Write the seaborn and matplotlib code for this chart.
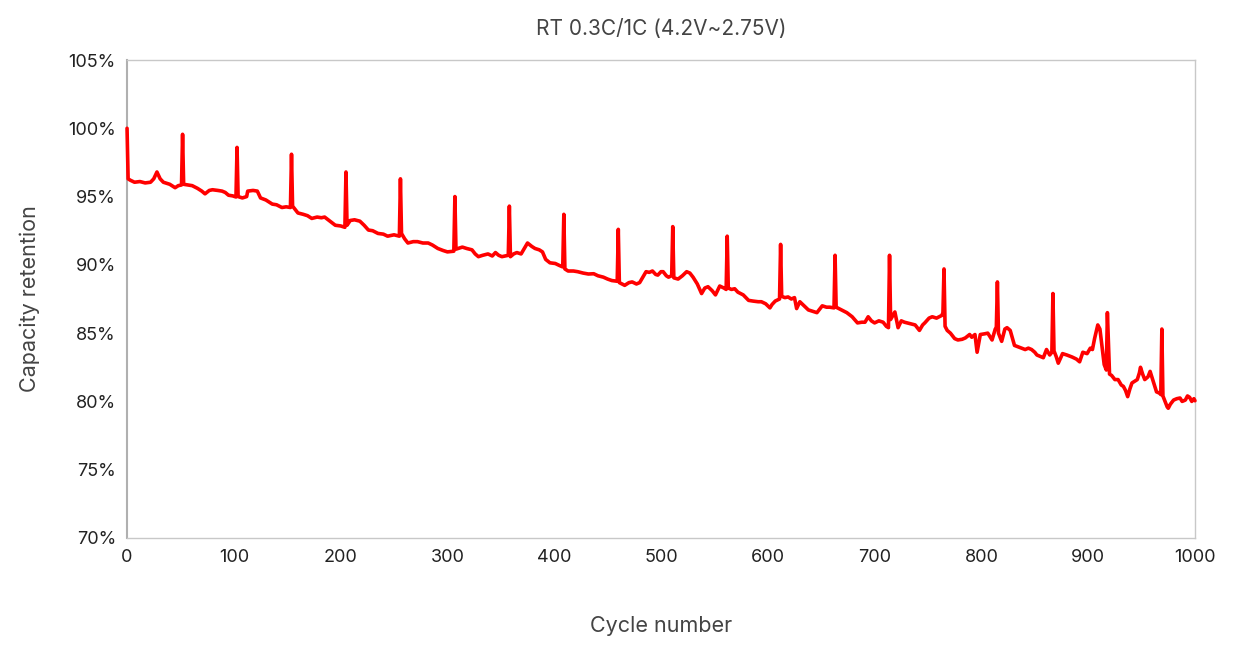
import pandas as pd
import numpy as np
import seaborn as sns
import matplotlib.pyplot as plt
from matplotlib.ticker import PercentFormatter

# baseline readings (cycle, retention %)
base_cycles = [1, 3, 7, 12, 17, 22, 25, 28, 31, 34, 40, 45, 48, 51, 53, 57, 61, 66, 70, 73,
               77, 80, 85, 89, 92, 95, 99, 102, 104, 108, 112, 113, 118, 122, 125, 130, 136, 140, 145, 149,
               153, 155, 160, 165, 169, 173, 178, 182, 185, 190, 195, 200, 204, 206, 209, 213, 218, 222, 226, 230,
               235, 240, 244, 250, 255, 257, 260, 263, 268, 272, 277, 282, 286, 291, 296, 300, 306, 308, 314, 318,
               323, 326, 329, 333, 338, 342, 345, 348, 351, 357, 359, 362, 365, 369, 372, 375, 379, 382, 386, 389,
               392, 396, 401, 405, 408, 410, 413, 418, 422, 427, 432, 437, 441, 446, 450, 454, 459, 461, 466, 470,
               473, 477, 480, 483, 486, 489, 492, 495, 497, 500, 502, 505, 507, 510, 512, 516, 520, 524, 527, 530,
               534, 538, 541, 544, 548, 551, 555, 559, 561, 563, 566, 569, 572, 577, 582, 586, 591, 594, 598, 602,
               604, 607, 611, 613, 616, 619, 622, 625, 627, 630, 634, 638, 642, 646, 649, 651, 655, 658, 662, 664,
               669, 674, 679, 684, 688, 691, 694, 697, 700, 704, 708, 711, 713, 715, 719, 722, 725, 728, 733, 738,
               742, 745, 747, 751, 754, 758, 763, 764, 766, 768, 771, 775, 778, 782, 785, 789, 791, 794, 796, 799,
               803, 806, 810, 813, 814, 816, 819, 822, 824, 827, 831, 836, 841, 844, 847, 850, 852, 855, 858, 861,
               864, 866, 868, 870, 872, 876, 880, 885, 889, 892, 895, 899, 902, 904, 906, 909, 911, 913, 915, 917,
               920, 922, 925, 928, 931, 933, 935, 937, 939, 941, 944, 946, 948, 949, 951, 953, 956, 958, 960, 962,
               964, 967, 968, 970, 972, 974, 975, 977, 980, 983, 986, 988, 991, 993, 995, 997, 999, 1000]
base_values = [96.3, 96.2, 96.05, 96.1, 96.0, 96.05, 96.3, 96.8, 96.3, 96.05, 95.9, 95.65, 95.8, 95.85, 95.9, 95.85, 95.8, 95.6, 95.4, 95.2,
               95.45, 95.5, 95.45, 95.4, 95.3, 95.1, 95.05, 94.97, 95.0, 94.9, 95.0, 95.4, 95.45, 95.4, 94.9, 94.75, 94.45, 94.4, 94.2, 94.25,
               94.2, 94.3, 93.8, 93.7, 93.6, 93.4, 93.5, 93.45, 93.5, 93.2, 92.9, 92.85, 92.75, 92.9, 93.25, 93.3, 93.2, 92.9, 92.55, 92.5,
               92.3, 92.25, 92.1, 92.2, 92.1, 92.3, 91.9, 91.6, 91.7, 91.7, 91.6, 91.6, 91.45, 91.2, 91.05, 90.95, 91.0, 91.15, 91.3, 91.2,
               91.1, 90.8, 90.6, 90.7, 90.8, 90.65, 90.9, 90.7, 90.6, 90.7, 90.6, 90.8, 90.9, 90.8, 91.2, 91.6, 91.35, 91.2, 91.1, 90.95,
               90.4, 90.15, 90.1, 89.95, 89.85, 89.7, 89.55, 89.55, 89.5, 89.4, 89.33, 89.35, 89.2, 89.1, 88.96, 88.85, 88.8, 88.7, 88.5, 88.7,
               88.75, 88.6, 88.7, 89.1, 89.5, 89.45, 89.55, 89.3, 89.25, 89.5, 89.5, 89.2, 89.1, 89.2, 89.05, 88.96, 89.2, 89.5, 89.4, 89.1,
               88.6, 87.9, 88.3, 88.4, 88.1, 87.8, 88.45, 88.3, 88.2, 88.3, 88.2, 88.25, 88.0, 87.8, 87.4, 87.35, 87.3, 87.3, 87.15, 86.85,
               87.1, 87.35, 87.5, 87.7, 87.6, 87.65, 87.5, 87.6, 86.8, 87.3, 87.0, 86.7, 86.6, 86.5, 86.8, 87.0, 86.9, 86.9, 86.85, 86.9,
               86.7, 86.5, 86.2, 85.75, 85.8, 85.8, 86.2, 85.9, 85.75, 85.9, 85.8, 85.5, 85.4, 86.0, 86.55, 85.4, 85.9, 85.8, 85.7, 85.6,
               85.2, 85.6, 85.75, 86.1, 86.2, 86.1, 86.3, 86.5, 85.5, 85.2, 85.0, 84.6, 84.5, 84.55, 84.65, 84.9, 84.7, 84.9, 83.6, 84.9,
               84.95, 85.0, 84.5, 85.3, 85.4, 85.0, 84.4, 85.3, 85.4, 85.2, 84.1, 83.95, 83.8, 83.9, 83.8, 83.6, 83.4, 83.3, 83.2, 83.8,
               83.4, 83.6, 83.7, 83.3, 82.8, 83.5, 83.4, 83.25, 83.1, 82.9, 83.6, 83.5, 83.9, 83.8, 84.6, 85.6, 85.3, 84.0, 82.7, 82.3,
               82.0, 81.9, 81.6, 81.6, 81.2, 81.1, 80.8, 80.35, 80.9, 81.35, 81.5, 81.6, 82.1, 82.5, 82.0, 81.6, 81.8, 82.2, 81.7, 81.2,
               80.7, 80.6, 80.5, 80.4, 80.0, 79.6, 79.5, 79.8, 80.1, 80.2, 80.25, 80.0, 80.1, 80.4, 80.3, 80.0, 80.2, 80.05]

# spikes every ~51 cycles (check-up cycles)
spike_cycles = [0, 52, 103, 154, 205, 256, 307, 358, 409, 460, 511, 562, 612, 663, 714, 765, 815, 867, 918, 969]
spike_values = [100.0, 99.56, 98.6, 98.1, 96.8, 96.3, 95.0, 94.3, 93.7, 92.6, 92.8, 92.1, 91.5, 90.7, 90.7, 89.7, 88.75, 87.9, 86.5, 85.3]

df = pd.concat([
    pd.DataFrame({'Cycle': base_cycles, 'Retention': base_values}),
    pd.DataFrame({'Cycle': spike_cycles, 'Retention': spike_values}),
]).sort_values('Cycle').reset_index(drop=True)

sns.set_style('white')
plt.rcParams['font.family'] = ['Inter', 'DejaVu Sans']

fig = plt.figure(figsize=(12.48, 6.46), dpi=100)
ax = fig.add_axes([0.1018, 0.1672, 0.8557, 0.7399])

sns.lineplot(data=df, x='Cycle', y='Retention', ax=ax, color='#ff0000', linewidth=2.6,
             estimator=None, sort=True, clip_on=False, zorder=3)

ax.set_xlim(0, 1000)
ax.set_ylim(70, 105)
ax.set_xticks(np.arange(0, 1001, 100))
ax.set_yticks(np.arange(70, 106, 5))
ax.yaxis.set_major_formatter(PercentFormatter(decimals=0))
ax.tick_params(axis='both', length=0, labelsize=13, colors='#222222', pad=8)

for s in ax.spines.values():
    s.set_color('#c8c8c8')
    s.set_linewidth(1.0)
ax.spines['left'].set_color('#b0b0b0')
ax.spines['left'].set_linewidth(1.5)

ax.set_title('RT 0.3C/1C (4.2V~2.75V)', fontsize=15, color='#444444', pad=18)
ax.set_xlabel('Cycle number', fontsize=15.5, color='#444444', labelpad=36)
ax.set_ylabel('Capacity retention', fontsize=15.5, color='#444444', labelpad=20)

fig.savefig('out.png', dpi=100)
